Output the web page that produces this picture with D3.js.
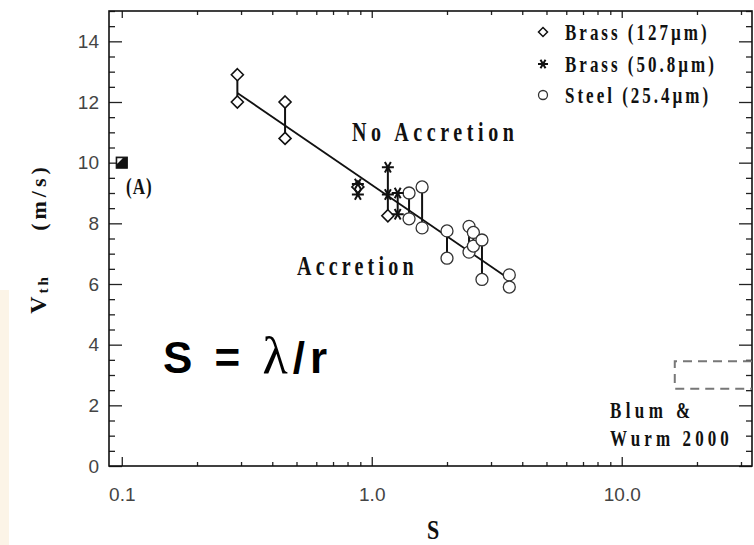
<!DOCTYPE html>
<html>
<head>
<meta charset="utf-8">
<script src="https://cdn.jsdelivr.net/npm/d3@7"></script>
<style>
  html, body { margin: 0; padding: 0; background: #fff; }
  svg { display: block; }
</style>
</head>
<body>
<svg id="chart" width="754" height="545"></svg>
<script>
// Threshold velocity versus S for three target materials
const brass127S = [0.29, 0.29, 0.45, 0.45, 0.88, 1.16];
const brass127V = [12.9, 12.0, 12.0, 10.8, 9.2, 8.25];
const brass50S = [0.88, 0.88, 1.16, 1.16, 1.27, 1.27];
const brass50V = [9.3, 8.95, 9.85, 8.95, 9.0, 8.3];
const steelS = [1.41, 1.41, 1.59, 1.59, 2.0, 2.0, 2.45, 2.45, 2.55, 2.55, 2.76, 2.76, 3.55, 3.55];
const steelV = [9.0, 8.15, 9.2, 7.85, 7.75, 6.85, 7.9, 7.05, 7.7, 7.25, 7.45, 6.15, 6.3, 5.9];

// Linear fit in log S
const fitS = [0.29, 3.5];
const fitV = [12.3, 6.2];

// Point (A)
const pointAS = [0.1];
const pointAV = [10.0];

// Blum & Wurm 2000 range
const blumS = [16.3, 33.2];
const blumV = [2.55, 3.45];

// Axis ticks
const xMajor = [0.1, 1, 10];
const xMajorLabels = ["0.1", "1.0", "10.0"];
const xMinor = [0.2, 0.3, 0.4, 0.5, 0.6, 0.7, 0.8, 0.9, 2, 3, 4, 5, 6, 7, 8, 9, 20, 30];
const yMajor = [0, 2, 4, 6, 8, 10, 12, 14];
const yMinor = d3.range(0, 15.01, 0.5).filter(v => v % 2 !== 0);

const legendLabels = ["Brass (127\u00b5m)", "Brass (50.8\u00b5m)", "Steel (25.4\u00b5m)"];

const svg = d3.select("#chart");
const W = 754, H = 545;
const L = 109, R = 752, T = 11, B = 466;

const x = d3.scaleLog().domain([0.0889, 33.2]).range([L, R]);
const y = d3.scaleLinear().domain([0, 15]).range([B, T]);

// faint slide background strip on the far left
svg.append("rect").attr("x", 0).attr("y", 290).attr("width", 9).attr("height", H - 290)
  .attr("fill", "#fcf4e7");

const serif = "'Liberation Serif', 'Times New Roman', serif";
const sans = "'Liberation Sans', Arial, sans-serif";

// axes, ticks pointing inward
function styleAxis(g) {
  g.select(".domain").remove();
  g.selectAll("line").attr("stroke", "#222").attr("stroke-width", 1.3);
  g.selectAll("text").attr("font-family", sans).attr("font-size", 19).attr("fill", "#444");
}

svg.append("g").attr("transform", `translate(0,${B})`)
  .call(d3.axisBottom(x).tickValues(xMinor).tickSizeInner(-4).tickSizeOuter(0).tickFormat(""))
  .call(styleAxis);
svg.append("g").attr("transform", `translate(0,${B})`)
  .call(d3.axisBottom(x).tickValues(xMajor).tickSizeInner(-9).tickSizeOuter(0).tickPadding(22)
    .tickFormat((d, i) => xMajorLabels[i]))
  .call(styleAxis);
svg.append("g").attr("transform", `translate(0,${T})`)
  .call(d3.axisTop(x).tickValues(xMinor).tickSizeInner(-4).tickSizeOuter(0).tickFormat(""))
  .call(styleAxis);
svg.append("g").attr("transform", `translate(0,${T})`)
  .call(d3.axisTop(x).tickValues(xMajor).tickSizeInner(-7).tickSizeOuter(0).tickFormat(""))
  .call(styleAxis);

svg.append("g").attr("transform", `translate(${L},0)`)
  .call(d3.axisLeft(y).tickValues(yMinor).tickSizeInner(-6).tickSizeOuter(0).tickFormat(""))
  .call(styleAxis);
svg.append("g").attr("transform", `translate(${L},0)`)
  .call(d3.axisLeft(y).tickValues(yMajor).tickSizeInner(-13).tickSizeOuter(0).tickPadding(10)
    .tickFormat(d3.format("d")))
  .call(styleAxis);
svg.append("g").attr("transform", `translate(${R},0)`)
  .call(d3.axisRight(y).tickValues(yMinor).tickSizeInner(-6).tickSizeOuter(0).tickFormat(""))
  .call(styleAxis);
svg.append("g").attr("transform", `translate(${R},0)`)
  .call(d3.axisRight(y).tickValues(yMajor).tickSizeInner(-13).tickSizeOuter(0).tickFormat(""))
  .call(styleAxis);

// frame
svg.append("rect").attr("x", L).attr("y", T).attr("width", R - L).attr("height", B - T)
  .attr("fill", "none").attr("stroke", "#111").attr("stroke-width", 1.6);

// Blum & Wurm dashed box (open on the right)
svg.append("path")
  .attr("d", `M${x(blumS[1])},${y(blumV[1])}H${x(blumS[0])}V${y(blumV[0])}H${x(blumS[1])}`)
  .attr("fill", "none").attr("stroke", "#777").attr("stroke-width", 2)
  .attr("stroke-dasharray", "9,6");

// fit line
svg.append("line")
  .attr("x1", x(fitS[0])).attr("y1", y(fitV[0]))
  .attr("x2", x(fitS[1])).attr("y2", y(fitV[1]))
  .attr("stroke", "#111").attr("stroke-width", 1.8);

// vertical bars joining the measurements taken at the same S
const allPts = [];
brass127S.forEach((s, i) => allPts.push({ s, v: brass127V[i] }));
brass50S.forEach((s, i) => allPts.push({ s, v: brass50V[i] }));
steelS.forEach((s, i) => allPts.push({ s, v: steelV[i] }));
const groups = d3.rollups(allPts, g => d3.extent(g, d => d.v), d => d.s);
svg.append("g").selectAll("line").data(groups).join("line")
  .attr("x1", d => x(d[0])).attr("x2", d => x(d[0]))
  .attr("y1", d => y(d[1][0])).attr("y2", d => y(d[1][1]))
  .attr("stroke", "#111").attr("stroke-width", 2);

// marker shapes
function diamond(g, r) {
  return g.append("path").attr("d", `M0,${-r}L${r},0L0,${r}L${-r},0Z`)
    .attr("fill", "#fff").attr("stroke", "#111").attr("stroke-width", 1.6);
}
function star(g, r) {
  const p = [0, 60, 120].map(a => {
    const t = a * Math.PI / 180;
    return `M${-r * Math.cos(t)},${-r * Math.sin(t)}L${r * Math.cos(t)},${r * Math.sin(t)}`;
  }).join("");
  return g.append("path").attr("d", p).attr("stroke", "#111").attr("stroke-width", 2).attr("fill", "none");
}
function ring(g, r) {
  return g.append("circle").attr("r", r).attr("fill", "#fff")
    .attr("stroke", "#333").attr("stroke-width", 1.3);
}

const mk = svg.append("g");
steelS.forEach((s, i) => ring(mk.append("g").attr("transform", `translate(${x(s)},${y(steelV[i])})`), 6));
brass127S.forEach((s, i) => diamond(mk.append("g").attr("transform", `translate(${x(s)},${y(brass127V[i])})`), 6));
brass50S.forEach((s, i) => star(mk.append("g").attr("transform", `translate(${x(s)},${y(brass50V[i])})`), 6));

// point (A)
pointAS.forEach((s, i) => {
  const g = svg.append("g").attr("transform", `translate(${x(s)},${y(pointAV[i])})`);
  g.append("rect").attr("x", -5.5).attr("y", -5.5).attr("width", 11).attr("height", 11)
    .attr("fill", "#111").attr("stroke", "#111").attr("stroke-width", 1.2);
  g.append("path").attr("d", "M-4.5,-4.5H1L-4.5,1Z").attr("fill", "#fff");
});

// stretched bold serif text
function serifText(txt, cx, cy, size, spacing, anchor, sy) {
  const g = svg.append("g").attr("transform", `translate(${cx},${cy}) scale(1,${sy || 1.4})`);
  return g.append("text").text(txt)
    .attr("font-family", serif).attr("font-weight", "bold").attr("font-size", size)
    .attr("letter-spacing", spacing).attr("text-anchor", anchor || "start")
    .attr("dominant-baseline", "central").attr("fill", "#111");
}

serifText("(A)", 126, 186, 17, 1, "start");
serifText("No Accretion", 352, 131, 20, 4.6, "start");
serifText("Accretion", 297, 265, 20, 4.2, "start");
serifText("Blum &", 610, 410, 17, 4.4, "start");
serifText("Wurm 2000", 610, 438, 17, 4.1, "start");

// legend
const legY = [32, 64, 95];
legendLabels.forEach((t, i) => {
  const g = svg.append("g").attr("transform", `translate(543,${legY[i]})`);
  if (i === 0) diamond(g, 4.5).attr("stroke-width", 1.5);
  if (i === 1) star(g, 5);
  if (i === 2) ring(g, 4.5);
  serifText(t, 565, legY[i], 17, 3, "start", 1.35);
});

// axis titles
serifText("S", 433, 530, 22, 0, "middle", 1.25);
function rotatedLabel(cy) {
  return svg.append("g").attr("transform", `translate(38,${cy}) rotate(-90)`)
    .append("text").attr("font-family", serif).attr("font-weight", "bold")
    .attr("font-size", 22).attr("letter-spacing", 3).attr("text-anchor", "middle")
    .attr("dominant-baseline", "central").attr("fill", "#111");
}
const vth = rotatedLabel(294);
vth.append("tspan").text("V").attr("font-size", 24);
vth.append("tspan").text("th").attr("font-size", 15).attr("dy", 5);
rotatedLabel(197).attr("letter-spacing", 4).text("(m/s)");

// S = lambda / r
const eq = svg.append("text").attr("x", 163).attr("y", 373)
  .attr("font-family", sans).attr("font-weight", "bold").attr("font-size", 44)
  .attr("letter-spacing", 5).attr("fill", "#000");
eq.append("tspan").text("S\u00a0=\u00a0");
eq.append("tspan").text("\u03bb").attr("font-weight", "normal").attr("font-family", serif)
  .attr("font-size", 52);
eq.append("tspan").text("/r");
</script>
</body>
</html>
